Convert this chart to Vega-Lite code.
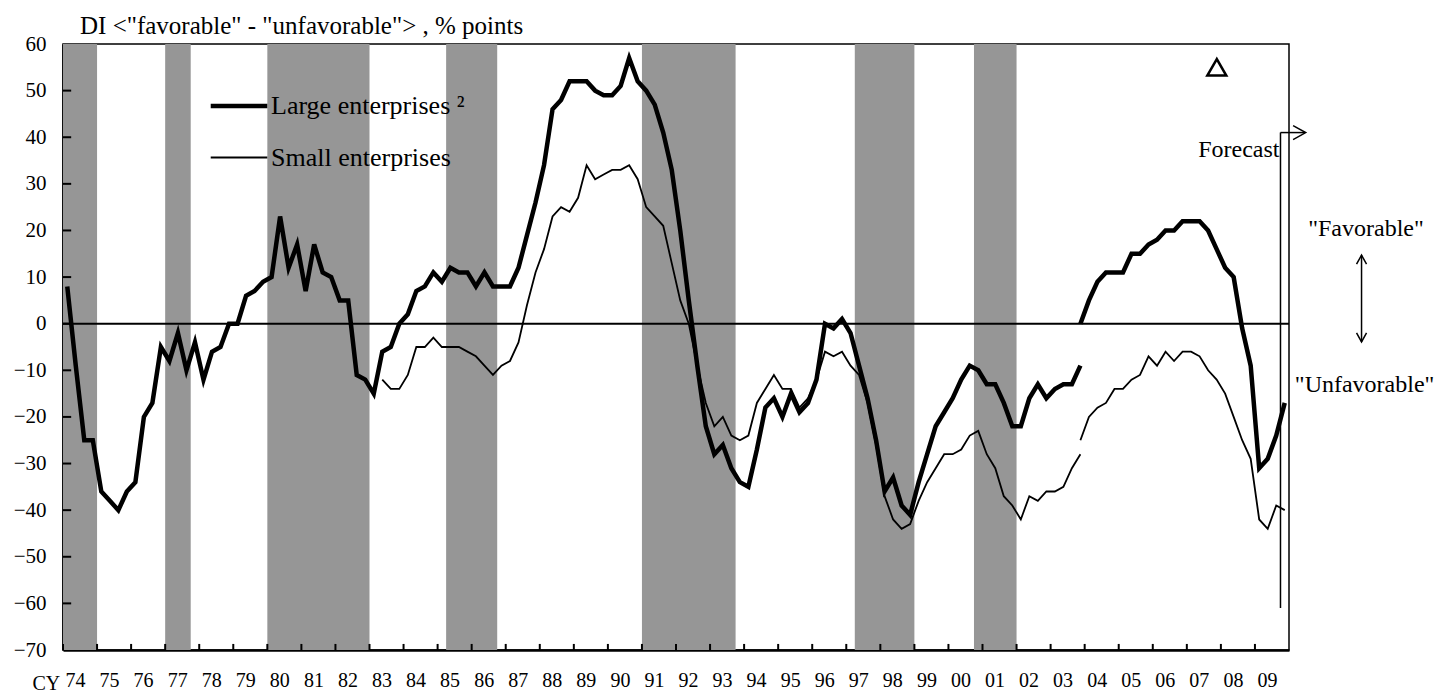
{
  "$schema": "https://vega.github.io/schema/vega-lite/v6.json",
  "width": 1226,
  "height": 606,
  "autosize": {"type": "none"},
  "padding": {"left": 63, "top": 44, "right": 148, "bottom": 40},
  "background": "white",
  "config": {
    "view": {"stroke": "black", "strokeWidth": 1.5},
    "font": "Liberation Serif",
    "axis": {"labelFont": "Liberation Serif", "labelColor": "black", "tickColor": "black", "domainColor": "black", "tickWidth": 2, "domainWidth": 2.5, "grid": false, "zindex": 1, "labelOverlap": false, "titleFont": "Liberation Serif", "titleColor": "black", "titleFontWeight": "normal"}
  },
  "title": {"text": "DI <\"favorable\" - \"unfavorable\"> , % points", "anchor": "start", "frame": "group", "dx": 17, "offset": -6, "fontSize": 25, "font": "Liberation Serif", "fontWeight": "normal", "color": "black"},
  "datasets": {
    "bands": [
      {"start": 1974.0, "end": 1975.0},
      {"start": 1977.0, "end": 1977.75},
      {"start": 1980.0, "end": 1983.0},
      {"start": 1985.25, "end": 1986.75},
      {"start": 1991.0, "end": 1993.75},
      {"start": 1997.25, "end": 1999.0},
      {"start": 2000.75, "end": 2002.0}
    ],
    "years": [
      {"year":1974,"label":"74"},{"year":1975,"label":"75"},{"year":1976,"label":"76"},{"year":1977,"label":"77"},
      {"year":1978,"label":"78"},{"year":1979,"label":"79"},{"year":1980,"label":"80"},{"year":1981,"label":"81"},
      {"year":1982,"label":"82"},{"year":1983,"label":"83"},{"year":1984,"label":"84"},{"year":1985,"label":"85"},
      {"year":1986,"label":"86"},{"year":1987,"label":"87"},{"year":1988,"label":"88"},{"year":1989,"label":"89"},
      {"year":1990,"label":"90"},{"year":1991,"label":"91"},{"year":1992,"label":"92"},{"year":1993,"label":"93"},
      {"year":1994,"label":"94"},{"year":1995,"label":"95"},{"year":1996,"label":"96"},{"year":1997,"label":"97"},
      {"year":1998,"label":"98"},{"year":1999,"label":"99"},{"year":2000,"label":"00"},{"year":2001,"label":"01"},
      {"year":2002,"label":"02"},{"year":2003,"label":"03"},{"year":2004,"label":"04"},{"year":2005,"label":"05"},
      {"year":2006,"label":"06"},{"year":2007,"label":"07"},{"year":2008,"label":"08"},{"year":2009,"label":"09"}
    ],
    "yticks": [{"tv":-60},{"tv":-50},{"tv":-40},{"tv":-30},{"tv":-20},{"tv":-10},{"tv":0},{"tv":10},{"tv":20},{"tv":30},{"tv":40},{"tv":50}],
    "series": [
      {"t":1974.125,"v":8,"firm":"Large enterprises","survey":"old"},
      {"t":1974.375,"v":-9,"firm":"Large enterprises","survey":"old"},
      {"t":1974.625,"v":-25,"firm":"Large enterprises","survey":"old"},
      {"t":1974.875,"v":-25,"firm":"Large enterprises","survey":"old"},
      {"t":1975.125,"v":-36,"firm":"Large enterprises","survey":"old"},
      {"t":1975.375,"v":-38,"firm":"Large enterprises","survey":"old"},
      {"t":1975.625,"v":-40,"firm":"Large enterprises","survey":"old"},
      {"t":1975.875,"v":-36,"firm":"Large enterprises","survey":"old"},
      {"t":1976.125,"v":-34,"firm":"Large enterprises","survey":"old"},
      {"t":1976.375,"v":-20,"firm":"Large enterprises","survey":"old"},
      {"t":1976.625,"v":-17,"firm":"Large enterprises","survey":"old"},
      {"t":1976.875,"v":-5,"firm":"Large enterprises","survey":"old"},
      {"t":1977.125,"v":-8,"firm":"Large enterprises","survey":"old"},
      {"t":1977.375,"v":-2,"firm":"Large enterprises","survey":"old"},
      {"t":1977.625,"v":-10,"firm":"Large enterprises","survey":"old"},
      {"t":1977.875,"v":-4,"firm":"Large enterprises","survey":"old"},
      {"t":1978.125,"v":-12,"firm":"Large enterprises","survey":"old"},
      {"t":1978.375,"v":-6,"firm":"Large enterprises","survey":"old"},
      {"t":1978.625,"v":-5,"firm":"Large enterprises","survey":"old"},
      {"t":1978.875,"v":0,"firm":"Large enterprises","survey":"old"},
      {"t":1979.125,"v":0,"firm":"Large enterprises","survey":"old"},
      {"t":1979.375,"v":6,"firm":"Large enterprises","survey":"old"},
      {"t":1979.625,"v":7,"firm":"Large enterprises","survey":"old"},
      {"t":1979.875,"v":9,"firm":"Large enterprises","survey":"old"},
      {"t":1980.125,"v":10,"firm":"Large enterprises","survey":"old"},
      {"t":1980.375,"v":23,"firm":"Large enterprises","survey":"old"},
      {"t":1980.625,"v":12,"firm":"Large enterprises","survey":"old"},
      {"t":1980.875,"v":17,"firm":"Large enterprises","survey":"old"},
      {"t":1981.125,"v":7,"firm":"Large enterprises","survey":"old"},
      {"t":1981.375,"v":17,"firm":"Large enterprises","survey":"old"},
      {"t":1981.625,"v":11,"firm":"Large enterprises","survey":"old"},
      {"t":1981.875,"v":10,"firm":"Large enterprises","survey":"old"},
      {"t":1982.125,"v":5,"firm":"Large enterprises","survey":"old"},
      {"t":1982.375,"v":5,"firm":"Large enterprises","survey":"old"},
      {"t":1982.625,"v":-11,"firm":"Large enterprises","survey":"old"},
      {"t":1982.875,"v":-12,"firm":"Large enterprises","survey":"old"},
      {"t":1983.125,"v":-15,"firm":"Large enterprises","survey":"old"},
      {"t":1983.375,"v":-6,"firm":"Large enterprises","survey":"old"},
      {"t":1983.625,"v":-5,"firm":"Large enterprises","survey":"old"},
      {"t":1983.875,"v":0,"firm":"Large enterprises","survey":"old"},
      {"t":1984.125,"v":2,"firm":"Large enterprises","survey":"old"},
      {"t":1984.375,"v":7,"firm":"Large enterprises","survey":"old"},
      {"t":1984.625,"v":8,"firm":"Large enterprises","survey":"old"},
      {"t":1984.875,"v":11,"firm":"Large enterprises","survey":"old"},
      {"t":1985.125,"v":9,"firm":"Large enterprises","survey":"old"},
      {"t":1985.375,"v":12,"firm":"Large enterprises","survey":"old"},
      {"t":1985.625,"v":11,"firm":"Large enterprises","survey":"old"},
      {"t":1985.875,"v":11,"firm":"Large enterprises","survey":"old"},
      {"t":1986.125,"v":8,"firm":"Large enterprises","survey":"old"},
      {"t":1986.375,"v":11,"firm":"Large enterprises","survey":"old"},
      {"t":1986.625,"v":8,"firm":"Large enterprises","survey":"old"},
      {"t":1986.875,"v":8,"firm":"Large enterprises","survey":"old"},
      {"t":1987.125,"v":8,"firm":"Large enterprises","survey":"old"},
      {"t":1987.375,"v":12,"firm":"Large enterprises","survey":"old"},
      {"t":1987.625,"v":19,"firm":"Large enterprises","survey":"old"},
      {"t":1987.875,"v":26,"firm":"Large enterprises","survey":"old"},
      {"t":1988.125,"v":34,"firm":"Large enterprises","survey":"old"},
      {"t":1988.375,"v":46,"firm":"Large enterprises","survey":"old"},
      {"t":1988.625,"v":48,"firm":"Large enterprises","survey":"old"},
      {"t":1988.875,"v":52,"firm":"Large enterprises","survey":"old"},
      {"t":1989.125,"v":52,"firm":"Large enterprises","survey":"old"},
      {"t":1989.375,"v":52,"firm":"Large enterprises","survey":"old"},
      {"t":1989.625,"v":50,"firm":"Large enterprises","survey":"old"},
      {"t":1989.875,"v":49,"firm":"Large enterprises","survey":"old"},
      {"t":1990.125,"v":49,"firm":"Large enterprises","survey":"old"},
      {"t":1990.375,"v":51,"firm":"Large enterprises","survey":"old"},
      {"t":1990.625,"v":57,"firm":"Large enterprises","survey":"old"},
      {"t":1990.875,"v":52,"firm":"Large enterprises","survey":"old"},
      {"t":1991.125,"v":50,"firm":"Large enterprises","survey":"old"},
      {"t":1991.375,"v":47,"firm":"Large enterprises","survey":"old"},
      {"t":1991.625,"v":41,"firm":"Large enterprises","survey":"old"},
      {"t":1991.875,"v":33,"firm":"Large enterprises","survey":"old"},
      {"t":1992.125,"v":20,"firm":"Large enterprises","survey":"old"},
      {"t":1992.375,"v":5,"firm":"Large enterprises","survey":"old"},
      {"t":1992.625,"v":-9,"firm":"Large enterprises","survey":"old"},
      {"t":1992.875,"v":-22,"firm":"Large enterprises","survey":"old"},
      {"t":1993.125,"v":-28,"firm":"Large enterprises","survey":"old"},
      {"t":1993.375,"v":-26,"firm":"Large enterprises","survey":"old"},
      {"t":1993.625,"v":-31,"firm":"Large enterprises","survey":"old"},
      {"t":1993.875,"v":-34,"firm":"Large enterprises","survey":"old"},
      {"t":1994.125,"v":-35,"firm":"Large enterprises","survey":"old"},
      {"t":1994.375,"v":-27,"firm":"Large enterprises","survey":"old"},
      {"t":1994.625,"v":-18,"firm":"Large enterprises","survey":"old"},
      {"t":1994.875,"v":-16,"firm":"Large enterprises","survey":"old"},
      {"t":1995.125,"v":-20,"firm":"Large enterprises","survey":"old"},
      {"t":1995.375,"v":-15,"firm":"Large enterprises","survey":"old"},
      {"t":1995.625,"v":-19,"firm":"Large enterprises","survey":"old"},
      {"t":1995.875,"v":-17,"firm":"Large enterprises","survey":"old"},
      {"t":1996.125,"v":-12,"firm":"Large enterprises","survey":"old"},
      {"t":1996.375,"v":0,"firm":"Large enterprises","survey":"old"},
      {"t":1996.625,"v":-1,"firm":"Large enterprises","survey":"old"},
      {"t":1996.875,"v":1,"firm":"Large enterprises","survey":"old"},
      {"t":1997.125,"v":-2,"firm":"Large enterprises","survey":"old"},
      {"t":1997.375,"v":-9,"firm":"Large enterprises","survey":"old"},
      {"t":1997.625,"v":-16,"firm":"Large enterprises","survey":"old"},
      {"t":1997.875,"v":-25,"firm":"Large enterprises","survey":"old"},
      {"t":1998.125,"v":-36,"firm":"Large enterprises","survey":"old"},
      {"t":1998.375,"v":-33,"firm":"Large enterprises","survey":"old"},
      {"t":1998.625,"v":-39,"firm":"Large enterprises","survey":"old"},
      {"t":1998.875,"v":-41,"firm":"Large enterprises","survey":"old"},
      {"t":1999.125,"v":-34,"firm":"Large enterprises","survey":"old"},
      {"t":1999.375,"v":-28,"firm":"Large enterprises","survey":"old"},
      {"t":1999.625,"v":-22,"firm":"Large enterprises","survey":"old"},
      {"t":1999.875,"v":-19,"firm":"Large enterprises","survey":"old"},
      {"t":2000.125,"v":-16,"firm":"Large enterprises","survey":"old"},
      {"t":2000.375,"v":-12,"firm":"Large enterprises","survey":"old"},
      {"t":2000.625,"v":-9,"firm":"Large enterprises","survey":"old"},
      {"t":2000.875,"v":-10,"firm":"Large enterprises","survey":"old"},
      {"t":2001.125,"v":-13,"firm":"Large enterprises","survey":"old"},
      {"t":2001.375,"v":-13,"firm":"Large enterprises","survey":"old"},
      {"t":2001.625,"v":-17,"firm":"Large enterprises","survey":"old"},
      {"t":2001.875,"v":-22,"firm":"Large enterprises","survey":"old"},
      {"t":2002.125,"v":-22,"firm":"Large enterprises","survey":"old"},
      {"t":2002.375,"v":-16,"firm":"Large enterprises","survey":"old"},
      {"t":2002.625,"v":-13,"firm":"Large enterprises","survey":"old"},
      {"t":2002.875,"v":-16,"firm":"Large enterprises","survey":"old"},
      {"t":2003.125,"v":-14,"firm":"Large enterprises","survey":"old"},
      {"t":2003.375,"v":-13,"firm":"Large enterprises","survey":"old"},
      {"t":2003.625,"v":-13,"firm":"Large enterprises","survey":"old"},
      {"t":2003.875,"v":-9,"firm":"Large enterprises","survey":"old"},
      {"t":2003.875,"v":0,"firm":"Large enterprises","survey":"new"},
      {"t":2004.125,"v":5,"firm":"Large enterprises","survey":"new"},
      {"t":2004.375,"v":9,"firm":"Large enterprises","survey":"new"},
      {"t":2004.625,"v":11,"firm":"Large enterprises","survey":"new"},
      {"t":2004.875,"v":11,"firm":"Large enterprises","survey":"new"},
      {"t":2005.125,"v":11,"firm":"Large enterprises","survey":"new"},
      {"t":2005.375,"v":15,"firm":"Large enterprises","survey":"new"},
      {"t":2005.625,"v":15,"firm":"Large enterprises","survey":"new"},
      {"t":2005.875,"v":17,"firm":"Large enterprises","survey":"new"},
      {"t":2006.125,"v":18,"firm":"Large enterprises","survey":"new"},
      {"t":2006.375,"v":20,"firm":"Large enterprises","survey":"new"},
      {"t":2006.625,"v":20,"firm":"Large enterprises","survey":"new"},
      {"t":2006.875,"v":22,"firm":"Large enterprises","survey":"new"},
      {"t":2007.125,"v":22,"firm":"Large enterprises","survey":"new"},
      {"t":2007.375,"v":22,"firm":"Large enterprises","survey":"new"},
      {"t":2007.625,"v":20,"firm":"Large enterprises","survey":"new"},
      {"t":2007.875,"v":16,"firm":"Large enterprises","survey":"new"},
      {"t":2008.125,"v":12,"firm":"Large enterprises","survey":"new"},
      {"t":2008.375,"v":10,"firm":"Large enterprises","survey":"new"},
      {"t":2008.625,"v":-1,"firm":"Large enterprises","survey":"new"},
      {"t":2008.875,"v":-9,"firm":"Large enterprises","survey":"new"},
      {"t":2009.125,"v":-31,"firm":"Large enterprises","survey":"new"},
      {"t":2009.375,"v":-29,"firm":"Large enterprises","survey":"new"},
      {"t":2009.625,"v":-24,"firm":"Large enterprises","survey":"new"},
      {"t":2009.875,"v":-17,"firm":"Large enterprises","survey":"new"},
      {"t":1983.375,"v":-12,"firm":"Small enterprises","survey":"old"},
      {"t":1983.625,"v":-14,"firm":"Small enterprises","survey":"old"},
      {"t":1983.875,"v":-14,"firm":"Small enterprises","survey":"old"},
      {"t":1984.125,"v":-11,"firm":"Small enterprises","survey":"old"},
      {"t":1984.375,"v":-5,"firm":"Small enterprises","survey":"old"},
      {"t":1984.625,"v":-5,"firm":"Small enterprises","survey":"old"},
      {"t":1984.875,"v":-3,"firm":"Small enterprises","survey":"old"},
      {"t":1985.125,"v":-5,"firm":"Small enterprises","survey":"old"},
      {"t":1985.375,"v":-5,"firm":"Small enterprises","survey":"old"},
      {"t":1985.625,"v":-5,"firm":"Small enterprises","survey":"old"},
      {"t":1985.875,"v":-6,"firm":"Small enterprises","survey":"old"},
      {"t":1986.125,"v":-7,"firm":"Small enterprises","survey":"old"},
      {"t":1986.375,"v":-9,"firm":"Small enterprises","survey":"old"},
      {"t":1986.625,"v":-11,"firm":"Small enterprises","survey":"old"},
      {"t":1986.875,"v":-9,"firm":"Small enterprises","survey":"old"},
      {"t":1987.125,"v":-8,"firm":"Small enterprises","survey":"old"},
      {"t":1987.375,"v":-4,"firm":"Small enterprises","survey":"old"},
      {"t":1987.625,"v":4,"firm":"Small enterprises","survey":"old"},
      {"t":1987.875,"v":11,"firm":"Small enterprises","survey":"old"},
      {"t":1988.125,"v":16,"firm":"Small enterprises","survey":"old"},
      {"t":1988.375,"v":23,"firm":"Small enterprises","survey":"old"},
      {"t":1988.625,"v":25,"firm":"Small enterprises","survey":"old"},
      {"t":1988.875,"v":24,"firm":"Small enterprises","survey":"old"},
      {"t":1989.125,"v":27,"firm":"Small enterprises","survey":"old"},
      {"t":1989.375,"v":34,"firm":"Small enterprises","survey":"old"},
      {"t":1989.625,"v":31,"firm":"Small enterprises","survey":"old"},
      {"t":1989.875,"v":32,"firm":"Small enterprises","survey":"old"},
      {"t":1990.125,"v":33,"firm":"Small enterprises","survey":"old"},
      {"t":1990.375,"v":33,"firm":"Small enterprises","survey":"old"},
      {"t":1990.625,"v":34,"firm":"Small enterprises","survey":"old"},
      {"t":1990.875,"v":31,"firm":"Small enterprises","survey":"old"},
      {"t":1991.125,"v":25,"firm":"Small enterprises","survey":"old"},
      {"t":1991.375,"v":23,"firm":"Small enterprises","survey":"old"},
      {"t":1991.625,"v":21,"firm":"Small enterprises","survey":"old"},
      {"t":1991.875,"v":13,"firm":"Small enterprises","survey":"old"},
      {"t":1992.125,"v":5,"firm":"Small enterprises","survey":"old"},
      {"t":1992.375,"v":0,"firm":"Small enterprises","survey":"old"},
      {"t":1992.625,"v":-9,"firm":"Small enterprises","survey":"old"},
      {"t":1992.875,"v":-17,"firm":"Small enterprises","survey":"old"},
      {"t":1993.125,"v":-22,"firm":"Small enterprises","survey":"old"},
      {"t":1993.375,"v":-20,"firm":"Small enterprises","survey":"old"},
      {"t":1993.625,"v":-24,"firm":"Small enterprises","survey":"old"},
      {"t":1993.875,"v":-25,"firm":"Small enterprises","survey":"old"},
      {"t":1994.125,"v":-24,"firm":"Small enterprises","survey":"old"},
      {"t":1994.375,"v":-17,"firm":"Small enterprises","survey":"old"},
      {"t":1994.625,"v":-14,"firm":"Small enterprises","survey":"old"},
      {"t":1994.875,"v":-11,"firm":"Small enterprises","survey":"old"},
      {"t":1995.125,"v":-14,"firm":"Small enterprises","survey":"old"},
      {"t":1995.375,"v":-14,"firm":"Small enterprises","survey":"old"},
      {"t":1995.625,"v":-18,"firm":"Small enterprises","survey":"old"},
      {"t":1995.875,"v":-16,"firm":"Small enterprises","survey":"old"},
      {"t":1996.125,"v":-12,"firm":"Small enterprises","survey":"old"},
      {"t":1996.375,"v":-6,"firm":"Small enterprises","survey":"old"},
      {"t":1996.625,"v":-7,"firm":"Small enterprises","survey":"old"},
      {"t":1996.875,"v":-6,"firm":"Small enterprises","survey":"old"},
      {"t":1997.125,"v":-9,"firm":"Small enterprises","survey":"old"},
      {"t":1997.375,"v":-11,"firm":"Small enterprises","survey":"old"},
      {"t":1997.625,"v":-17,"firm":"Small enterprises","survey":"old"},
      {"t":1997.875,"v":-26,"firm":"Small enterprises","survey":"old"},
      {"t":1998.125,"v":-37,"firm":"Small enterprises","survey":"old"},
      {"t":1998.375,"v":-42,"firm":"Small enterprises","survey":"old"},
      {"t":1998.625,"v":-44,"firm":"Small enterprises","survey":"old"},
      {"t":1998.875,"v":-43,"firm":"Small enterprises","survey":"old"},
      {"t":1999.125,"v":-38,"firm":"Small enterprises","survey":"old"},
      {"t":1999.375,"v":-34,"firm":"Small enterprises","survey":"old"},
      {"t":1999.625,"v":-31,"firm":"Small enterprises","survey":"old"},
      {"t":1999.875,"v":-28,"firm":"Small enterprises","survey":"old"},
      {"t":2000.125,"v":-28,"firm":"Small enterprises","survey":"old"},
      {"t":2000.375,"v":-27,"firm":"Small enterprises","survey":"old"},
      {"t":2000.625,"v":-24,"firm":"Small enterprises","survey":"old"},
      {"t":2000.875,"v":-23,"firm":"Small enterprises","survey":"old"},
      {"t":2001.125,"v":-28,"firm":"Small enterprises","survey":"old"},
      {"t":2001.375,"v":-31,"firm":"Small enterprises","survey":"old"},
      {"t":2001.625,"v":-37,"firm":"Small enterprises","survey":"old"},
      {"t":2001.875,"v":-39,"firm":"Small enterprises","survey":"old"},
      {"t":2002.125,"v":-42,"firm":"Small enterprises","survey":"old"},
      {"t":2002.375,"v":-37,"firm":"Small enterprises","survey":"old"},
      {"t":2002.625,"v":-38,"firm":"Small enterprises","survey":"old"},
      {"t":2002.875,"v":-36,"firm":"Small enterprises","survey":"old"},
      {"t":2003.125,"v":-36,"firm":"Small enterprises","survey":"old"},
      {"t":2003.375,"v":-35,"firm":"Small enterprises","survey":"old"},
      {"t":2003.625,"v":-31,"firm":"Small enterprises","survey":"old"},
      {"t":2003.875,"v":-28,"firm":"Small enterprises","survey":"old"},
      {"t":2003.875,"v":-25,"firm":"Small enterprises","survey":"new"},
      {"t":2004.125,"v":-20,"firm":"Small enterprises","survey":"new"},
      {"t":2004.375,"v":-18,"firm":"Small enterprises","survey":"new"},
      {"t":2004.625,"v":-17,"firm":"Small enterprises","survey":"new"},
      {"t":2004.875,"v":-14,"firm":"Small enterprises","survey":"new"},
      {"t":2005.125,"v":-14,"firm":"Small enterprises","survey":"new"},
      {"t":2005.375,"v":-12,"firm":"Small enterprises","survey":"new"},
      {"t":2005.625,"v":-11,"firm":"Small enterprises","survey":"new"},
      {"t":2005.875,"v":-7,"firm":"Small enterprises","survey":"new"},
      {"t":2006.125,"v":-9,"firm":"Small enterprises","survey":"new"},
      {"t":2006.375,"v":-6,"firm":"Small enterprises","survey":"new"},
      {"t":2006.625,"v":-8,"firm":"Small enterprises","survey":"new"},
      {"t":2006.875,"v":-6,"firm":"Small enterprises","survey":"new"},
      {"t":2007.125,"v":-6,"firm":"Small enterprises","survey":"new"},
      {"t":2007.375,"v":-7,"firm":"Small enterprises","survey":"new"},
      {"t":2007.625,"v":-10,"firm":"Small enterprises","survey":"new"},
      {"t":2007.875,"v":-12,"firm":"Small enterprises","survey":"new"},
      {"t":2008.125,"v":-15,"firm":"Small enterprises","survey":"new"},
      {"t":2008.375,"v":-20,"firm":"Small enterprises","survey":"new"},
      {"t":2008.625,"v":-25,"firm":"Small enterprises","survey":"new"},
      {"t":2008.875,"v":-29,"firm":"Small enterprises","survey":"new"},
      {"t":2009.125,"v":-42,"firm":"Small enterprises","survey":"new"},
      {"t":2009.375,"v":-44,"firm":"Small enterprises","survey":"new"},
      {"t":2009.625,"v":-39,"firm":"Small enterprises","survey":"new"},
      {"t":2009.875,"v":-40,"firm":"Small enterprises","survey":"new"}
    ]
  },
  "layer": [
    {
      "data": {"name": "bands"},
      "mark": {"type": "rect", "color": "#969696"},
      "encoding": {
        "x": {"field": "start", "type": "quantitative", "scale": {"domain": [1974, 2010], "nice": false, "zero": false},
          "axis": {"values": [1974, 2010], "ticks": false, "labels": false,
            "title": "CY", "titleX": -31, "titleY": 39, "titleAlign": "left", "titleBaseline": "alphabetic", "titleFontSize": 20}},
        "x2": {"field": "end"},
        "y": {"datum": 60, "type": "quantitative", "scale": {"domain": [-70, 60], "nice": false, "zero": false},
          "axis": {"values": [-70,-60,-50,-40,-30,-20,-10,0,10,20,30,40,50,60], "ticks": false, "labelFont": "Liberation Serif", "labelFontSize": 21, "labelPadding": 17, "labelOverlap": false, "format": "d", "title": null}},
        "y2": {"datum": -70}
      }
    },
    {
      "data": {"name": "years"},
      "mark": {"type": "rule", "color": "black", "strokeWidth": 2},
      "encoding": {
        "x": {"field": "year", "type": "quantitative"},
        "y": {"datum": -70, "type": "quantitative"},
        "y2": {"datum": -68.7}
      }
    },
    {
      "data": {"name": "yticks"},
      "mark": {"type": "rule", "color": "black", "strokeWidth": 2},
      "encoding": {
        "y": {"field": "tv", "type": "quantitative"},
        "x": {"datum": 1974, "type": "quantitative"},
        "x2": {"datum": 1974.24}
      }
    },
    {
      "data": {"name": "years"},
      "mark": {"type": "text", "font": "Liberation Serif", "fontSize": 20, "color": "black", "align": "center", "baseline": "alphabetic", "dx": 12.5, "dy": 37},
      "encoding": {
        "x": {"field": "year", "type": "quantitative"},
        "y": {"datum": -70, "type": "quantitative"},
        "text": {"field": "label"}
      }
    },
    {
      "data": {"values": [{"level": 0}]},
      "mark": {"type": "rule", "color": "black", "strokeWidth": 2},
      "encoding": {
        "y": {"field": "level", "type": "quantitative"}
      }
    },
    {
      "data": {"name": "series"},
      "mark": {"type": "line", "color": "black", "strokeJoin": "miter"},
      "encoding": {
        "x": {"field": "t", "type": "quantitative"},
        "y": {"field": "v", "type": "quantitative"},
        "strokeWidth": {"field": "firm", "type": "nominal", "scale": {"domain": ["Large enterprises", "Small enterprises"], "range": [4.5, 1.8]},
          "legend": {"orient": "none", "legendX": 145, "legendY": 31, "title": null, "symbolType": "stroke", "symbolSize": 3200, "symbolStrokeColor": "black",
            "labelFont": "Liberation Serif", "labelFontSize": 26, "labelColor": "black", "labelOffset": 1, "labelLimit": 0, "rowPadding": 9, "padding": 0,
            "labelExpr": "datum.label == 'Large enterprises' ? 'Large enterprises ²' : datum.label"}},
        "detail": {"field": "survey", "type": "nominal"}
      }
    },
    {
      "data": {"values": [{"x": 2009.75, "y": 41, "y2": -61}]},
      "mark": {"type": "rule", "color": "black", "strokeWidth": 1.5},
      "encoding": {
        "x": {"field": "x", "type": "quantitative"},
        "y": {"field": "y", "type": "quantitative"},
        "y2": {"field": "y2"}
      }
    },
    {
      "data": {"values": [{"x": 2009.75, "x2": 2010.47, "y": 41}]},
      "mark": {"type": "rule", "color": "black", "strokeWidth": 1.5},
      "encoding": {
        "x": {"field": "x", "type": "quantitative"},
        "x2": {"field": "x2"},
        "y": {"field": "y", "type": "quantitative"}
      }
    },
    {
      "data": {"values": [{"x": 2010.49, "y": 41}]},
      "mark": {"type": "point", "shape": "M-1.8,-1L0,0L-1.8,1", "size": 196, "filled": false, "stroke": "black", "strokeWidth": 1.5, "opacity": 1},
      "encoding": {
        "x": {"field": "x", "type": "quantitative"},
        "y": {"field": "y", "type": "quantitative"}
      }
    },
    {
      "data": {"values": [{"x": 2012.13, "y": 14.7, "y2": -3.9}]},
      "mark": {"type": "rule", "color": "black", "strokeWidth": 1.5},
      "encoding": {
        "x": {"field": "x", "type": "quantitative"},
        "y": {"field": "y", "type": "quantitative"},
        "y2": {"field": "y2"}
      }
    },
    {
      "data": {"values": [{"x": 2012.13, "y": 14.7}]},
      "mark": {"type": "point", "shape": "M-1,1.8L0,0L1,1.8", "size": 100, "filled": false, "stroke": "black", "strokeWidth": 1.5, "opacity": 1},
      "encoding": {
        "x": {"field": "x", "type": "quantitative"},
        "y": {"field": "y", "type": "quantitative"}
      }
    },
    {
      "data": {"values": [{"x": 2012.13, "y": -3.9}]},
      "mark": {"type": "point", "shape": "M-1,-1.8L0,0L1,-1.8", "size": 100, "filled": false, "stroke": "black", "strokeWidth": 1.5, "opacity": 1},
      "encoding": {
        "x": {"field": "x", "type": "quantitative"},
        "y": {"field": "y", "type": "quantitative"}
      }
    },
    {
      "data": {"values": [{"x": 2007.88, "y": 55}]},
      "mark": {"type": "point", "shape": "triangle-up", "size": 360, "filled": false, "stroke": "black", "strokeWidth": 2.5, "opacity": 1},
      "encoding": {
        "x": {"field": "x", "type": "quantitative"},
        "y": {"field": "y", "type": "quantitative"}
      }
    },
    {
      "data": {"values": [
        {"x": 2009.72, "y": 37.2, "label": "Forecast", "align": "right"},
        {"x": 2012.26, "y": 20.4, "label": "\"Favorable\"", "align": "center"},
        {"x": 2012.22, "y": -13.2, "label": "\"Unfavorable\"", "align": "center"}
      ]},
      "mark": {"type": "text", "font": "Liberation Serif", "fontSize": 24, "color": "black", "baseline": "middle", "align": {"expr": "datum.align"}},
      "encoding": {
        "x": {"field": "x", "type": "quantitative"},
        "y": {"field": "y", "type": "quantitative"},
        "text": {"field": "label"}
      }
    }
  ]
}
